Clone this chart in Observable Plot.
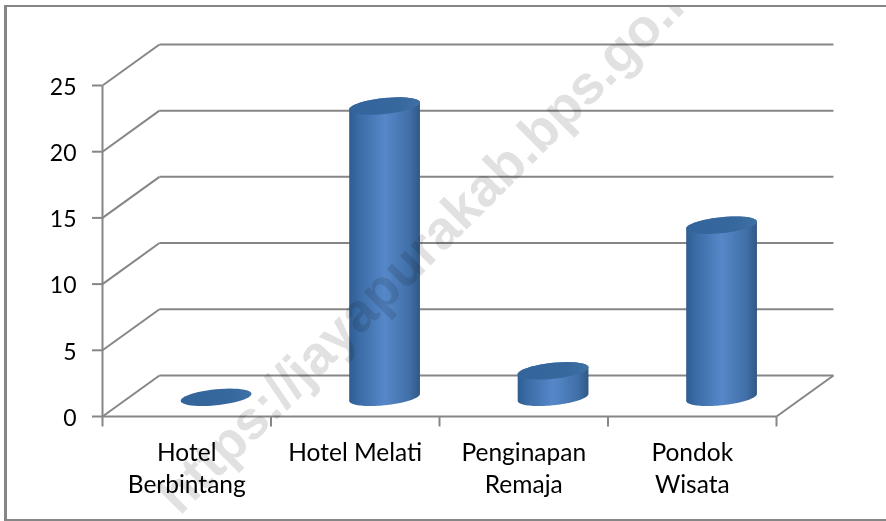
<!DOCTYPE html>
<html>
<head>
<meta charset="utf-8">
<script src="https://cdn.jsdelivr.net/npm/d3@7"></script>
<script src="https://cdn.jsdelivr.net/npm/@observablehq/plot@0.6"></script>
<style>
html,body{margin:0;padding:0;background:#fff;}
#chart{position:absolute;left:0;top:0;width:886px;height:521px;}
#chart svg{clip-path:inset(5px 0 1px 4px);}
#border{position:absolute;left:4px;top:5px;width:882px;border-top:2.5px solid #868686;border-left:3px solid #868686;border-bottom:2px solid #868686;box-sizing:border-box;height:516px;pointer-events:none;}
</style>
</head>
<body>
<div id="chart"></div>
<div id="border"></div>
<script>
const categories = ["Hotel\nBerbintang", "Hotel Melati", "Penginapan\nRemaja", "Pondok\nWisata"];
const values = [0, 22, 2, 13];
const yTicks = [0, 5, 10, 15, 20, 25];
const xBoundaries = [0, 1, 2, 3, 4];
const watermark = "https://jayapurakab.bps.go.id";

const indexes = categories.map((_, i) => i);
const depthX = 0.338, depthY = 3.1;            // offset of the back wall, in data units
const baseY = 1.45, rx = 0.21, ry = 0.604, tilt = 0.264;
const cx = i => i + 0.5 + depthX / 2 + 0.005;
const angles = d3.range(0, 49).map(k => k / 48);
const ellipseY = (c, t) => c + ry * Math.sin(t) + tilt * Math.cos(t);
const tops = indexes.flatMap(i => angles.map(k => {
  const t = k * 2 * Math.PI, c = baseY + values[i];
  return {i, x: cx(i) + rx * Math.cos(t), y: ellipseY(c, t)};
}));
const bodies = indexes.filter(i => values[i] > 0).flatMap(i => {
  const c = baseY + values[i];
  const lower = angles.map(k => {
    const t = -k * Math.PI;
    return {i, x: cx(i) + rx * Math.cos(t), y: ellipseY(baseY, t)};
  });
  const upper = angles.map(k => {
    const t = Math.PI - k * Math.PI;
    return {i, x: cx(i) + rx * Math.cos(t), y: ellipseY(c, t)};
  });
  return [...lower, ...upper];
});

const gridColor = "#868686";
const gradient = () => {
  const ns = "http://www.w3.org/2000/svg";
  const defs = document.createElementNS(ns, "defs");
  defs.innerHTML = `
    <linearGradient id="cyl" x1="0" x2="1" y1="0" y2="0">
      <stop offset="0" stop-color="#2f5d91"/>
      <stop offset="0.14" stop-color="#3b6ca6"/>
      <stop offset="0.5" stop-color="#5688c9"/>
      <stop offset="0.85" stop-color="#416fa8"/>
      <stop offset="1" stop-color="#2f5884"/>
    </linearGradient>
    <linearGradient id="lid" x1="0" x2="1" y1="0" y2="0">
      <stop offset="0" stop-color="#33649b"/>
      <stop offset="0.7" stop-color="#36679d"/>
      <stop offset="1" stop-color="#3f70a6"/>
    </linearGradient>`;
  return defs;
};

const chart = Plot.plot({
  width: 886,
  height: 521,
  marginLeft: 102,
  marginRight: 110,
  marginTop: 85,
  marginBottom: 105,
  style: {background: "#fff", fontFamily: "Lato, sans-serif"},
  x: {type: "linear", domain: [0, 4], axis: null},
  y: {type: "linear", domain: [0, 25], axis: null},
  marks: [
    gradient,
    // back wall gridlines and their diagonals on the side wall
    Plot.link(yTicks, {x1: depthX, x2: 4 + depthX, y1: d => d + depthY, y2: d => d + depthY, stroke: gridColor, strokeWidth: 2}),
    Plot.link(yTicks, {x1: 0, x2: depthX, y1: d => d, y2: d => d + depthY, stroke: gridColor, strokeWidth: 2}),
    Plot.link([4], {x1: d => d, x2: d => d + depthX, y1: 0, y2: depthY, stroke: gridColor, strokeWidth: 2}),
    // axes
    Plot.link([0], {x1: 0, x2: 4, y1: d => d, y2: d => d, stroke: gridColor, strokeWidth: 2}),
    Plot.link([0], {x1: d => d, x2: d => d, y1: 0, y2: 25, stroke: gridColor, strokeWidth: 2}),
    Plot.link(xBoundaries, {x1: d => d, x2: d => d, y1: 0, y2: -0.75, stroke: gridColor, strokeWidth: 2}),
    Plot.axisY({ticks: yTicks, tickSize: 10, fill: "none", stroke: gridColor, strokeWidth: 2, label: null}),
    Plot.axisY({ticks: yTicks, tickSize: 0, tickPadding: 26, dy: 2, stroke: "none", fill: "#000", fontSize: 23, label: null}),
    Plot.axisX({
      ticks: indexes.map(i => i + 0.5), tickFormat: (d, i) => categories[i],
      tickSize: 0, tickPadding: 22, lineHeight: 1.3, fill: "#000", fontSize: 24.5, label: null, anchor: "bottom"
    }),
    // cylinders
    Plot.line(bodies, {x: "x", y: "y", z: "i", fill: "url(#cyl)", stroke: "none", curve: "linear"}),
    Plot.line(tops, {x: "x", y: "y", z: "i", fill: "url(#lid)", stroke: "none", curve: "linear"}),
    // watermark multiplied over everything
    Plot.text([watermark], {
      x: () => 1.96, y: () => 13.4, text: d => d, rotate: -45,
      fontFamily: "Liberation Sans, sans-serif", fontWeight: "bold", fontSize: 54,
      fill: "#e1e1e1", mixBlendMode: "multiply"
    })
  ]
});
document.getElementById("chart").appendChild(chart);
</script>
</body>
</html>
